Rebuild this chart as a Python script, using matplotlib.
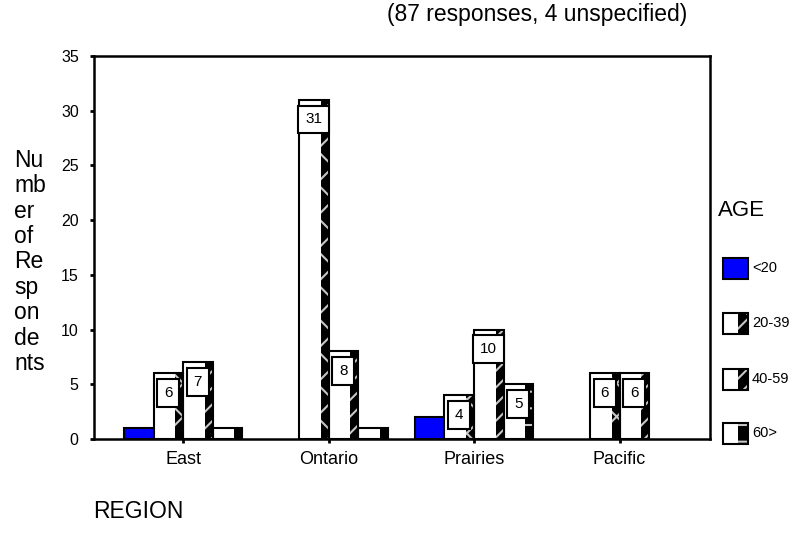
import numpy as np
import matplotlib
matplotlib.use('Agg')
import matplotlib.pyplot as plt
from matplotlib.patches import Rectangle

plt.rcParams['font.family'] = ['Liberation Sans', 'DejaVu Sans']
plt.rcParams['hatch.linewidth'] = 1.5

regions = ['East', 'Ontario', 'Prairies', 'Pacific']
ages = ['<20', '20-39', '40-59', '60>']
counts = {
    '<20':   [1, 0, 2, 0],
    '20-39': [6, 31, 4, 6],
    '40-59': [7, 8, 10, 6],
    '60>':   [1, 1, 5, 0],
}
hatches = {'20-39': 'x', '40-59': '//', '60>': '-'}
title = '(87 responses, 4 unspecified)'

W, H = 812, 536
fig = plt.figure(figsize=(W / 100, H / 100), dpi=100)
ax = fig.add_axes([94 / W, 1 - 439 / H, 616 / W, 383 / H])

x = np.arange(len(regions))
bw = 0.203
strip = 0.27

for j, age in enumerate(ages):
    vals = np.array(counts[age])
    left = x + (j - 2) * bw
    for xl, v in zip(left, vals):
        if v == 0:
            continue
        if age == '<20':
            ax.add_patch(Rectangle((xl, 0), bw, v, facecolor='#0000ff',
                                   edgecolor='black', lw=1.5, zorder=2))
            continue
        ax.add_patch(Rectangle((xl, 0), bw, v, facecolor='white',
                               edgecolor='none', zorder=2))
        ax.add_patch(Rectangle((xl + bw * (1 - strip), 0), bw * strip, v,
                               facecolor='black', edgecolor='#c8c8c8',
                               hatch=hatches[age], lw=0, zorder=3))
        ax.add_patch(Rectangle((xl, 0), bw, v, facecolor='none',
                               edgecolor='black', lw=1.5, zorder=4))
        # value box near the top of the bar
        if v >= 4:
            ax.text(xl + bw * 0.5, v - 1.8, str(v), ha='center', va='center',
                    fontsize=11, zorder=6,
                    bbox=dict(boxstyle='square,pad=0.45', facecolor='white',
                              edgecolor='black', lw=1.5))

ax.set_xlim(-0.612, 3.622)
ax.set_ylim(0, 35)
ax.set_yticks(np.arange(0, 36, 5))
ax.set_xticks(x)
ax.set_xticklabels(regions, fontsize=13)
ax.tick_params(axis='y', labelsize=11.5, length=3, width=2, pad=8)
ax.tick_params(axis='x', length=3, width=2, pad=6)
for s in ax.spines.values():
    s.set_linewidth(1.8)

# overlay in pixel coordinates for the free text and legend
ov = fig.add_axes([0, 0, 1, 1])
ov.set_xlim(0, W)
ov.set_ylim(H, 0)
ov.axis('off')
ov.patch.set_alpha(0)

ov.text(537, 14, title, ha='center', va='center', fontsize=16.5)
ov.text(93, 512, 'REGION', ha='left', va='center', fontsize=16.5)
ov.text(14, 262, 'Nu\nmb\ner\nof\nRe\nsp\non\nde\nnts', ha='left', va='center',
        fontsize=16.5, linespacing=1.13)
ov.text(718, 210, 'AGE', ha='left', va='center', fontsize=16)

leg_y = [268, 323, 379, 433]
for age, ly in zip(ages, leg_y):
    px, pw, ph = 723, 25, 21
    if age == '<20':
        ov.add_patch(Rectangle((px, ly - ph / 2), pw, ph, facecolor='#0000ff',
                               edgecolor='black', lw=1.5))
    else:
        ov.add_patch(Rectangle((px, ly - ph / 2), pw, ph, facecolor='white',
                               edgecolor='none'))
        ov.add_patch(Rectangle((px + pw * 0.6, ly - ph / 2), pw * 0.4, ph,
                               facecolor='black', edgecolor='#c8c8c8',
                               hatch=hatches[age], lw=0))
        ov.add_patch(Rectangle((px, ly - ph / 2), pw, ph, facecolor='none',
                               edgecolor='black', lw=1.5))
    ov.text(752, ly, age, ha='left', va='center', fontsize=10.5)

fig.savefig('out.png', dpi=100)
